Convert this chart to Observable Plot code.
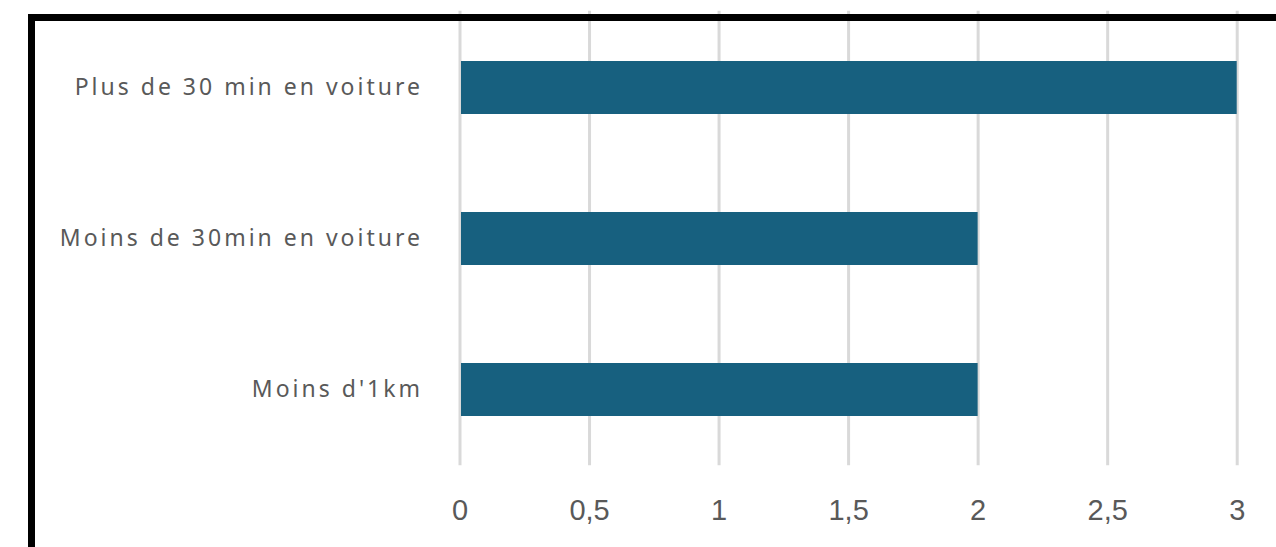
<!DOCTYPE html>
<html>
<head>
<meta charset="utf-8">
<script src="https://cdn.jsdelivr.net/npm/d3@7"></script>
<script src="https://cdn.jsdelivr.net/npm/@observablehq/plot@0.6"></script>
<style>
  html, body { margin: 0; padding: 0; background: #ffffff; overflow: hidden; }
  #wrap { position: relative; width: 1276px; height: 547px; }
  #border {
    position: absolute; left: 28px; top: 14px; right: 0; bottom: 0;
    border-left: 7px solid #000; border-top: 7px solid #000;
    pointer-events: none;
  }
  .ylab text { font-family: "Noto Sans", sans-serif; font-size: 23px; letter-spacing: 3px; fill: #595959; }
  .xlab text { font-family: "Liberation Sans", Arial, sans-serif; font-size: 29px; fill: #595959; }
</style>
</head>
<body>
<div id="wrap"><div id="chart"></div><div id="border"></div></div>
<script>
const categories = ["Plus de 30 min en voiture", "Moins de 30min en voiture", "Moins d'1km"];
const values = [3, 2, 2];
const xTicks = [0, 0.5, 1, 1.5, 2, 2.5, 3];
const xTickLabels = ["0", "0,5", "1", "1,5", "2", "2,5", "3"];

const data = categories.map((c, i) => ({category: c, value: values[i]}));

const chart = Plot.plot({
  width: 1276,
  height: 547,
  marginLeft: 459.5,
  marginRight: 39.3,
  marginTop: 10.75,
  marginBottom: 81.75,
  style: {background: "#ffffff", overflow: "visible"},
  x: {domain: [0, 3], ticks: xTicks},
  y: {domain: categories, paddingInner: 0.65, paddingOuter: 0.325},
  marks: [
    Plot.gridX(xTicks, {stroke: "#d9d9d9", strokeOpacity: 1, strokeWidth: 3}),
    Plot.barX(data, {x: "value", y: "category", fill: "#17607f", insetLeft: 1.5}),
    Plot.axisX(xTicks, {
      tickSize: 0, tickPadding: 34,
      tickFormat: (d) => xTickLabels[xTicks.indexOf(d)],
      className: "xlab", label: null
    }),
    Plot.axisY({tickSize: 0, tickPadding: 37, className: "ylab", label: null})
  ]
});
document.getElementById("chart").appendChild(chart);
</script>
</body>
</html>
